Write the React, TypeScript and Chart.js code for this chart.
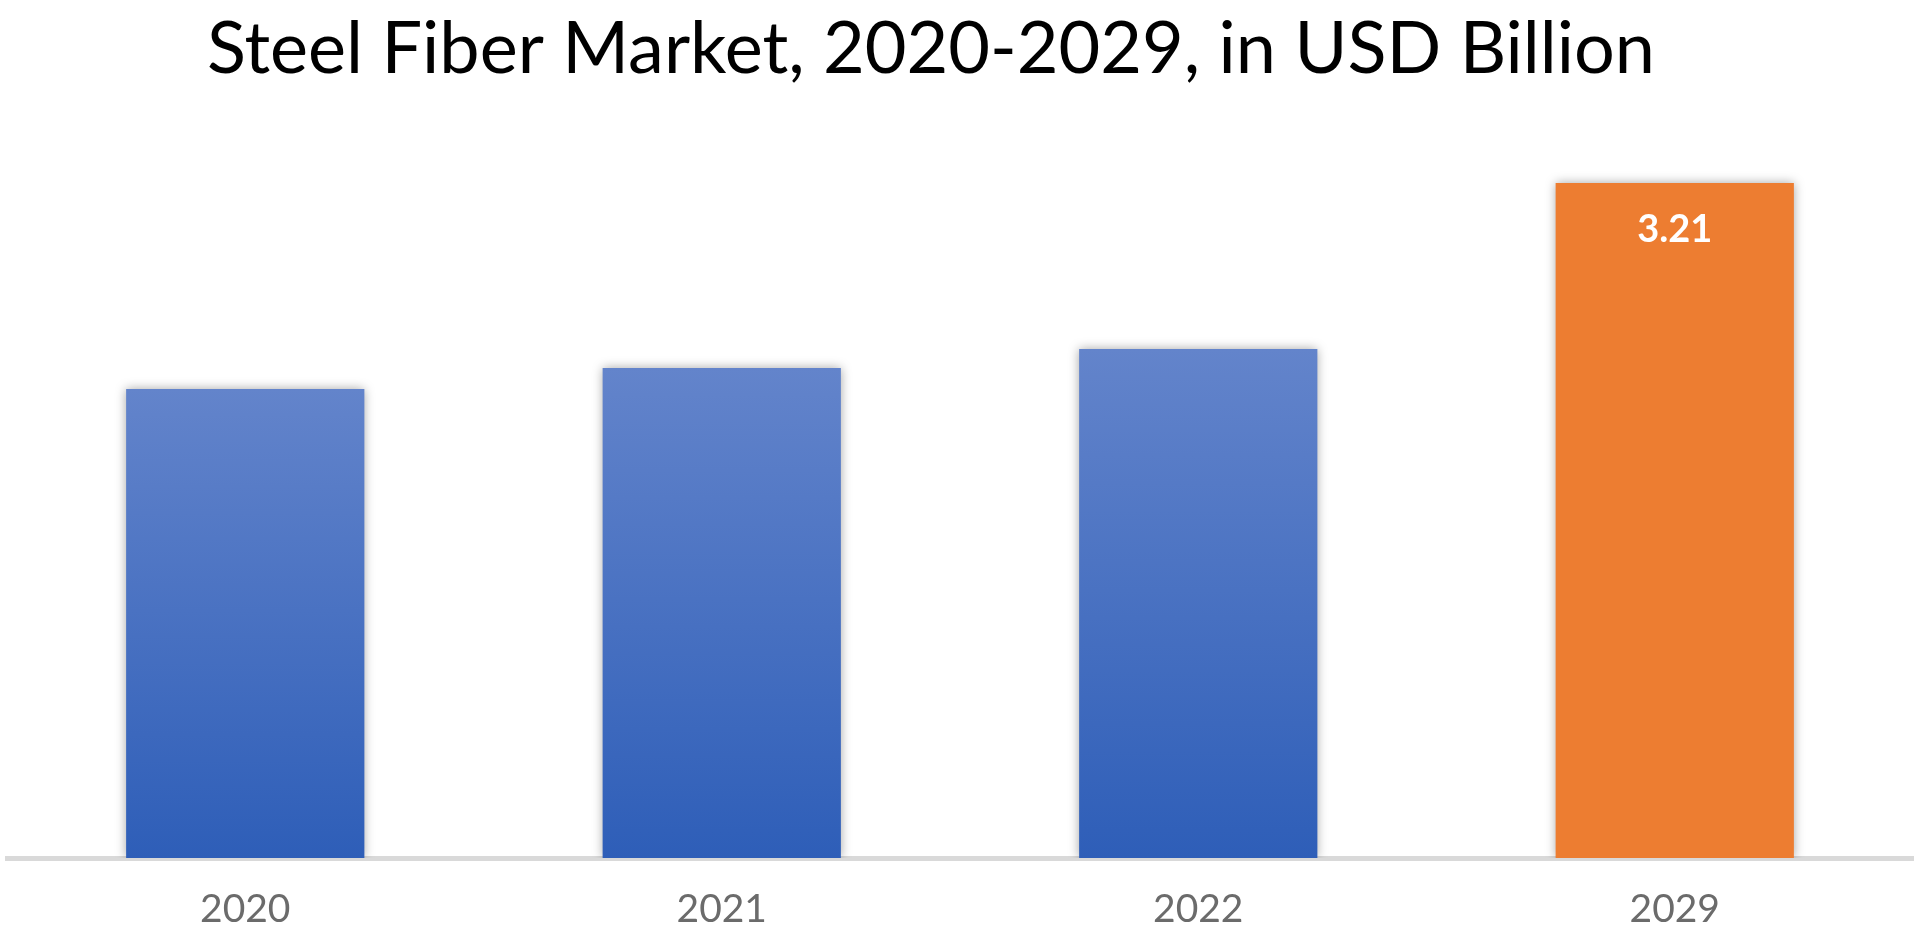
import { useEffect, useRef } from "react"
import { Chart, registerables, type Plugin } from "chart.js"

Chart.register(...registerables)

const chartTitle = "Steel Fiber Market, 2020-2029, in USD Billion"
const years = ["2020", "2021", "2022", "2029"]
const marketSize = [2.23, 2.33, 2.42, 3.21]
// only the forecast year carries a value label
const labelledYears = ["2029"]
const highlightYears = ["2029"]

const FONT = "Lato, 'Noto Sans', sans-serif"

// soft shadow behind the bars, plus the value label on the forecast bar
const barExtras: Plugin<"bar"> = {
  id: "barExtras",
  beforeDatasetsDraw(chart) {
    const ctx = chart.ctx
    ctx.save()
    ctx.shadowColor = "rgba(0, 0, 0, 0.35)"
    ctx.shadowBlur = 10
    ctx.shadowOffsetX = 0
    ctx.shadowOffsetY = 0
  },
  afterDatasetsDraw(chart) {
    const ctx = chart.ctx
    ctx.restore()
    const meta = chart.getDatasetMeta(0)
    ctx.save()
    ctx.fillStyle = "#ffffff"
    ctx.font = `bold 38px ${FONT}`
    ctx.textAlign = "center"
    ctx.textBaseline = "middle"
    years.forEach((year, i) => {
      if (!labelledYears.includes(year)) return
      const bar = meta.data[i] as any
      ctx.fillText(marketSize[i].toFixed(2), bar.x, bar.y + 47)
    })
    ctx.restore()
  },
}

const titleDraw: Plugin<"bar"> = {
  id: "titleDraw",
  afterDraw(chart) {
    const ctx = chart.ctx
    ctx.save()
    ctx.fillStyle = "#000000"
    ctx.font = `400 72px ${FONT}`
    ctx.textAlign = "center"
    ctx.textBaseline = "middle"
    ctx.fillText(chartTitle, 931, 50)
    ctx.restore()
  },
}

export default function App() {
  const canvasRef = useRef<HTMLCanvasElement>(null)
  const chartRef = useRef<Chart | null>(null)

  useEffect(() => {
    document.body.style.margin = "0"
    if (!canvasRef.current) return
    if (chartRef.current) chartRef.current.destroy()

    const barFill = (context: any) => {
      const year = years[context.dataIndex]
      if (highlightYears.includes(year)) return "#ED7D31"
      const chart = context.chart as Chart
      const area = chart.chartArea
      const yScale = chart.scales.y
      if (!area || !yScale) return "#4472C4"
      const top = yScale.getPixelForValue(marketSize[context.dataIndex])
      const g = chart.ctx.createLinearGradient(0, top, 0, area.bottom)
      g.addColorStop(0, "#6384CB")
      g.addColorStop(1, "#2E5EB8")
      return g
    }

    chartRef.current = new Chart(canvasRef.current, {
      type: "bar",
      data: {
        labels: years,
        datasets: [
          {
            label: "Market size",
            data: marketSize,
            backgroundColor: barFill,
            borderWidth: 0,
            categoryPercentage: 1,
            barPercentage: 0.5,
          },
        ],
      },
      options: {
        animation: false,
        responsive: false,
        devicePixelRatio: 1,
        layout: { padding: { top: 122, left: 7, right: 7, bottom: 11 } },
        plugins: {
          legend: { display: false },
          title: { display: false },
          tooltip: { enabled: false },
        },
        scales: {
          x: {
            grid: { display: false, drawTicks: false, tickLength: 0 },
            border: { display: true, color: "#D9D9D9", width: 5 },
            ticks: {
              color: "#6B6B6B",
              padding: 28,
              font: { family: FONT, size: 39 },
            },
            afterFit: (scale) => {
              scale.height = 74
            },
          },
          y: {
            display: false,
            min: 0,
            max: 3.5,
          },
        },
      },
      plugins: [barExtras, titleDraw],
    })

    return () => {
      if (chartRef.current) {
        chartRef.current.destroy()
        chartRef.current = null
      }
    }
  }, [])

  return (
    <div style={{ width: "1920px", height: "943px", background: "#ffffff" }}>
      <canvas ref={canvasRef} width={1920} height={943} style={{ display: "block" }} />
    </div>
  )
}
